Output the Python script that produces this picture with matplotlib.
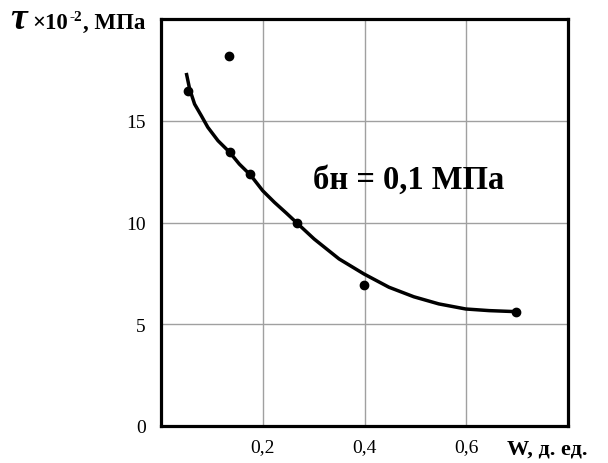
import matplotlib
matplotlib.use("Agg")
import matplotlib.pyplot as plt

# measured data points
w_pts = [0.053, 0.133, 0.135, 0.174, 0.267, 0.399, 0.697]
tau_pts = [16.48, 18.2, 13.48, 12.38, 9.98, 6.93, 5.62]

# trend curve
w_curve = [0.0497, 0.0563, 0.066, 0.0792, 0.092, 0.112, 0.135, 0.154, 0.176, 0.200,
           0.223, 0.246, 0.267, 0.301, 0.350, 0.399, 0.448, 0.497, 0.546, 0.599,
           0.645, 0.697]
tau_curve = [17.35, 16.56, 15.82, 15.25, 14.68, 14.02, 13.45, 12.87, 12.33, 11.56,
             10.99, 10.47, 9.98, 9.19, 8.21, 7.47, 6.82, 6.35, 6.00, 5.75,
             5.67, 5.62]

x_ticks = [0.2, 0.4, 0.6]
x_labels = ["0,2", "0,4", "0,6"]
y_ticks = [0, 5, 10, 15]
y_labels = ["0", "5", "10", "15"]

plt.rcParams['font.family'] = ['Liberation Serif', 'DejaVu Serif']

fig = plt.figure(figsize=(6.08, 4.64), dpi=100)
ax = fig.add_axes([161/608, 37/464, 407/608, 407/464])

ax.set_xlim(0, 0.8)
ax.set_ylim(0, 20)

for xv in x_ticks:
    ax.axvline(xv, color='#a0a0a0', lw=1.0, zorder=1)
for yv in y_ticks[1:]:
    ax.axhline(yv, color='#a0a0a0', lw=1.0, zorder=1)

ax.plot(w_curve, tau_curve, color='black', lw=2.5, zorder=3,
        solid_capstyle='butt', solid_joinstyle='round')
ax.plot(w_pts, tau_pts, 'o', color='black', ms=6, zorder=4)

ax.set_xticks(x_ticks)
ax.set_xticklabels(x_labels, fontsize=14)
ax.set_yticks(y_ticks)
ax.set_yticklabels(y_labels, fontsize=14)
ax.tick_params(axis='both', length=0)
ax.tick_params(axis='x', pad=9)
ax.tick_params(axis='y', pad=11)

for sp in ax.spines.values():
    sp.set_linewidth(2.3)
    sp.set_color('black')

ax.text(0.298, 12.1, "бн = 0,1 МПа", fontsize=23.5, fontweight='bold', va='center', ha='left')

fig.text(10/608, 1 - 29/464, "τ", fontsize=27, fontweight='bold', fontstyle='italic',
         ha='left', va='baseline')
fig.text(32/608, 1 - 29/464, "×10", fontsize=16.5, fontweight='bold', ha='left', va='baseline')
fig.text(69/608, 1 - 21/464, "-2", fontsize=11, fontweight='bold', ha='left', va='baseline')
fig.text(83/608, 1 - 29/464, ", МПа", fontsize=16.5, fontweight='bold', ha='left', va='baseline')

fig.text(507/608, 1 - 455/464, "W, д. ед.", fontsize=16, fontweight='bold', ha='left', va='baseline')

fig.savefig("out.png", dpi=100)
